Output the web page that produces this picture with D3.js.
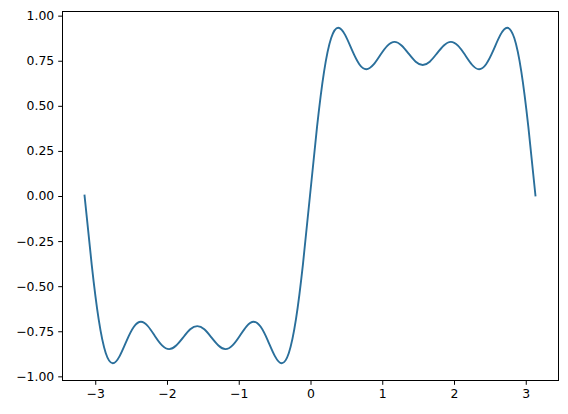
<!DOCTYPE html>
<html>
<head>
<meta charset="utf-8">
<script src="https://cdn.jsdelivr.net/npm/d3@7"></script>
<style>
  body { margin: 0; background: #fff; }
  svg { display: block; }
</style>
</head>
<body>
<div id="chart"></div>
<script>
//////////////////// Constants ////////////////////
const width = 568;
const height = 414;
const margin = {top: 11, right: 10, bottom: 34, left: 62};
const lineColour = "#2a6f9b";

// data: x from -pi to pi, y of the curve
const xValues = [
  -3.142, -3.043, -2.945, -2.847, -2.749, -2.651, -2.553, -2.454, -2.356, -2.258, -2.160,
  -2.062, -1.963, -1.865, -1.767, -1.669, -1.571, -1.473, -1.374, -1.276, -1.178, -1.080,
  -0.982, -0.884, -0.785, -0.687, -0.589, -0.491, -0.393, -0.295, -0.196, -0.098,
  0,
  0.098, 0.196, 0.295, 0.393, 0.491, 0.589, 0.687, 0.785, 0.884, 0.982, 1.080,
  1.178, 1.276, 1.374, 1.473, 1.571, 1.669, 1.767, 1.865, 1.963, 2.062, 2.160,
  2.258, 2.356, 2.454, 2.553, 2.651, 2.749, 2.847, 2.945, 3.043, 3.142
];
const yValues = [
  0, -0.380, -0.687, -0.873, -0.930, -0.889, -0.803, -0.728, -0.700, -0.725, -0.780,
  -0.831, -0.852, -0.832, -0.787, -0.742, -0.724, -0.742, -0.787, -0.832, -0.852, -0.831,
  -0.780, -0.725, -0.700, -0.728, -0.803, -0.889, -0.930, -0.873, -0.687, -0.380,
  0,
  0.380, 0.687, 0.873, 0.930, 0.889, 0.803, 0.728, 0.700, 0.725, 0.780, 0.831,
  0.852, 0.832, 0.787, 0.742, 0.724, 0.742, 0.787, 0.832, 0.852, 0.831, 0.780,
  0.725, 0.700, 0.728, 0.803, 0.889, 0.930, 0.873, 0.687, 0.380, 0
];
const xTicks = [-3, -2, -1, 0, 1, 2, 3];
const yTicks = [-1.00, -0.75, -0.50, -0.25, 0.00, 0.25, 0.50, 0.75, 1.00];

const data = xValues.map((x, i) => ({x: x, y: yValues[i]}));

const svg = d3.select("#chart")
  .append("svg")
    .attr("width", width)
    .attr("height", height)
    .style("font-family", "DejaVu Sans, sans-serif");

/// scales (matplotlib style 5% margins) ///
const xPad = (d3.max(xValues) - d3.min(xValues)) * 0.05;
const yPad = (d3.max(yValues) - d3.min(yValues)) * 0.05;
const xScale = d3.scaleLinear()
  .domain([d3.min(xValues) - xPad, d3.max(xValues) + xPad])
  .range([margin.left, width - margin.right]);
const yScale = d3.scaleLinear()
  .domain([d3.min(yValues) - yPad, d3.max(yValues) + yPad])
  .range([height - margin.bottom, margin.top]);

/// line ///
const line = d3.line(d => xScale(d.x), d => yScale(d.y))
  .curve(d3.curveNatural);

svg.append("path")
  .datum(data)
  .attr("fill", "none")
  .attr("stroke", lineColour)
  .attr("stroke-width", 1.9)
  .attr("stroke-linejoin", "round")
  .attr("stroke-linecap", "square")
  .attr("d", line);

/// axes ///
const minus = s => s.replace("-", "\u2212");

const gx = svg.append("g")
  .attr("transform", `translate(0.5, ${height - margin.bottom + 0.5})`)
  .call(d3.axisBottom(xScale).tickValues(xTicks).tickSize(4.3).tickPadding(4)
    .tickFormat(d => minus(d3.format("d")(d))));
const gy = svg.append("g")
  .attr("transform", `translate(${margin.left + 0.5}, 0.5)`)
  .call(d3.axisLeft(yScale).tickValues(yTicks).tickSize(4.3).tickPadding(4)
    .tickFormat(d => minus(d3.format(".2f")(d))));

[gx, gy].forEach(g => {
  g.select(".domain").remove();
  g.selectAll(".tick line").attr("stroke", "#000").attr("stroke-width", 1);
  g.selectAll(".tick text").attr("fill", "#000").style("font-size", "12.4px")
    .style("font-family", "DejaVu Sans, sans-serif");
});

// frame
svg.append("rect")
  .attr("x", margin.left + 0.5)
  .attr("y", margin.top + 0.5)
  .attr("width", width - margin.left - margin.right)
  .attr("height", height - margin.top - margin.bottom)
  .attr("fill", "none")
  .attr("stroke", "#000")
  .attr("stroke-width", 1);
</script>
</body>
</html>
